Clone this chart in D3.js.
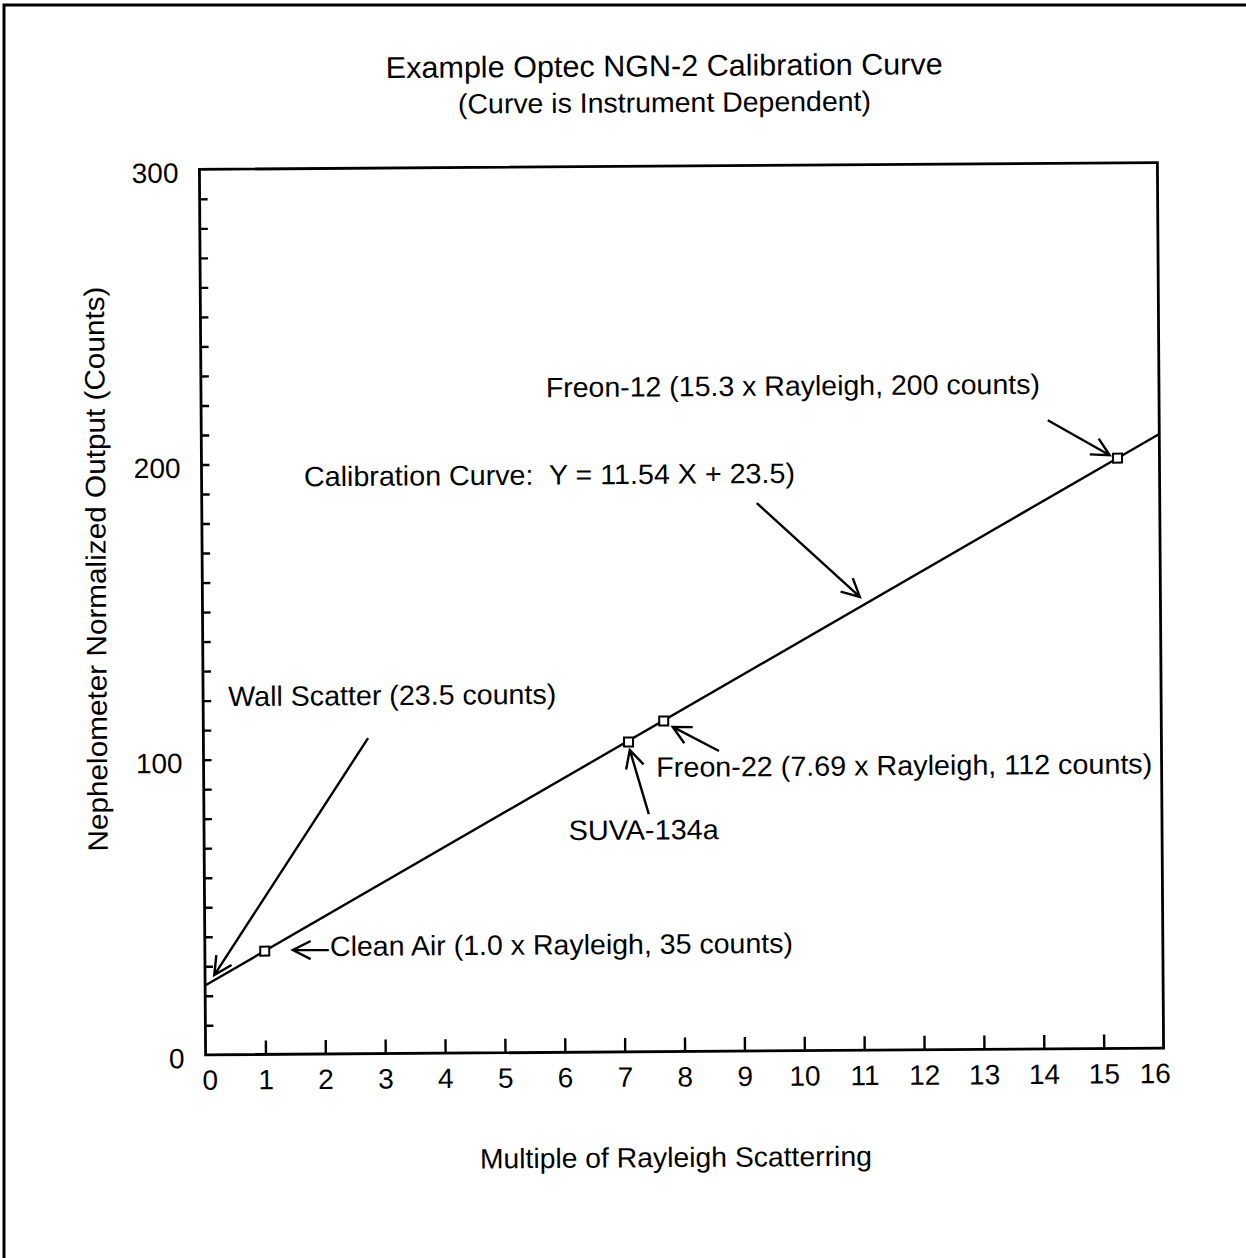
<!DOCTYPE html>
<html>
<head>
<meta charset="utf-8">
<script src="https://cdn.jsdelivr.net/npm/d3@7/dist/d3.min.js"></script>
<style>
  html, body { margin: 0; padding: 0; background: #fff; }
  text { font-family: "Liberation Sans", Arial, Helvetica, sans-serif; fill: #000; white-space: pre; }
</style>
</head>
<body>
<script>
// ---------------- DATA ----------------
const titleText = "Example Optec NGN-2 Calibration Curve";
const subtitleText = "(Curve is Instrument Dependent)";
const xAxisTitle = "Multiple of Rayleigh Scatterring";
const yAxisTitle = "Nephelometer Normalized Output (Counts)";

const xTickLabels = [0,1,2,3,4,5,6,7,8,9,10,11,12,13,14,15,16];
const xTickMarks  = [1,2,3,4,5,6,7,8,9,10,11,12,13,14,15];
const yTickLabels = [0,100,200,300];
const yTickMarks  = [10,20,30,40,50,60,70,80,90,100,110,120,130,140,150,160,170,180,190,200,210,220,230,240,250,260,270,280,290];

// calibration samples (multiple of Rayleigh, counts)
const sampleNames = ["Clean Air", "SUVA-134a", "Freon-22", "Freon-12"];
const sampleX = [1.0, 7.1, 7.69, 15.3];
const sampleY = [35, 105, 112, 200];

// calibration curve end points: Y = 11.54 X + 23.5
const curveX = [0, 16];
const curveY = [23.5, 208.1];

// annotations (text, anchor in data units)
const noteText = [
  "Freon-12 (15.3 x Rayleigh, 200 counts)",
  "Calibration Curve:  Y = 11.54 X + 23.5)",
  "Wall Scatter (23.5 counts)",
  "Freon-22 (7.69 x Rayleigh, 112 counts)",
  "SUVA-134a",
  "Clean Air (1.0 x Rayleigh, 35 counts)"
];
const noteX = [5.76, 1.71, 0.42, 7.56, 6.09, 2.09];
const noteY = [222.0, 192.4, 118.1, 93.1, 71.9, 33.2];
// arrows: tail -> tip, data units
const arrowX1 = [14.14, 9.27, 2.75, 8.61, 7.43, 2.07];
const arrowY1 = [213.0, 185.6, 106.9, 101.7, 80.5, 35.2];
const arrowX2 = [15.17, 10.98, 0.154, 7.84, 7.12, 1.47];
const arrowY2 = [201.0, 153.6, 27.0, 110.0, 102.3, 35.3];

// ---------------- LAYOUT ----------------
const W = 1246, H = 1258;
const plot = { left: 202.5, right: 1160.5, top: 166, bottom: 1051.5 };
const noteWidths = [494, 491, 328, 496, 150, 463];
const FONT_TICK = 28, FONT_NOTE = 28;

const svg = d3.select("body").append("svg")
  .attr("width", W).attr("height", H)
  .attr("viewBox", `0 0 ${W} ${H}`);

// page border (left and top edges)
svg.append("path")
  .attr("d", `M4,${H} V5 H${W}`)
  .attr("fill", "none").attr("stroke", "#000").attr("stroke-width", 3);

const g = svg.append("g").attr("transform", "rotate(-0.4,682,610)");

const x = d3.scaleLinear().domain([0, 16]).range([plot.left, plot.right]);
const y = d3.scaleLinear().domain([0, 300]).range([plot.bottom, plot.top]);

// titles
g.append("text").attr("x", 668).attr("y", 76).attr("text-anchor", "middle")
  .attr("font-size", 30).attr("textLength", 557).attr("lengthAdjust", "spacingAndGlyphs")
  .text(titleText);
g.append("text").attr("x", 668).attr("y", 112).attr("text-anchor", "middle")
  .attr("font-size", 28).attr("textLength", 413).attr("lengthAdjust", "spacingAndGlyphs")
  .text(subtitleText);

// y minor ticks (inward)
const yt = g.append("g").attr("transform", `translate(${plot.left},0)`)
  .call(d3.axisLeft(y).tickValues(yTickMarks).tickSizeInner(-8).tickSizeOuter(0).tickFormat(""));
yt.select(".domain").remove();
yt.selectAll(".tick line").attr("stroke", "#000").attr("stroke-width", 2.4);

// y labels
const yl = g.append("g").attr("transform", `translate(${plot.left},0)`)
  .call(d3.axisLeft(y).tickValues(yTickLabels).tickSize(0).tickPadding(21).tickFormat(d3.format("d")));
yl.select(".domain").remove();
yl.selectAll(".tick text").attr("font-size", FONT_TICK).attr("dy", "0.45em")
  .attr("font-family", "Liberation Sans, Arial, sans-serif").attr("fill", "#000");

// x ticks (inward)
const xt = g.append("g").attr("transform", `translate(0,${plot.bottom})`)
  .call(d3.axisBottom(x).tickValues(xTickMarks).tickSizeInner(-14).tickSizeOuter(0).tickFormat(""));
xt.select(".domain").remove();
xt.selectAll(".tick line").attr("stroke", "#000").attr("stroke-width", 2.4);

// x labels
const xl = g.append("g").attr("transform", `translate(0,${plot.bottom})`)
  .call(d3.axisBottom(x).tickValues(xTickLabels).tickSize(0).tickPadding(15).tickFormat(d3.format("d")));
xl.select(".domain").remove();
xl.selectAll(".tick text").attr("font-size", FONT_TICK)
  .attr("font-family", "Liberation Sans, Arial, sans-serif").attr("fill", "#000")
  .attr("dx", d => d === 16 ? -9 : (d === 0 ? 4 : 0));

// frame
g.append("rect")
  .attr("x", plot.left).attr("y", plot.top)
  .attr("width", plot.right - plot.left).attr("height", plot.bottom - plot.top)
  .attr("fill", "none").attr("stroke", "#000").attr("stroke-width", 2.8);

// axis titles
g.append("text").attr("x", 672).attr("y", 1167).attr("text-anchor", "middle")
  .attr("font-size", 28).attr("textLength", 392).attr("lengthAdjust", "spacingAndGlyphs")
  .text(xAxisTitle);
g.append("text").attr("transform", "translate(106,565) rotate(-90)").attr("text-anchor", "middle")
  .attr("font-size", 28).attr("textLength", 565).attr("lengthAdjust", "spacingAndGlyphs")
  .text(yAxisTitle);

// calibration curve
const line = d3.line().x(d => x(d[0])).y(d => y(d[1]));
g.append("path")
  .datum(curveX.map((v, i) => [v, curveY[i]]))
  .attr("d", line)
  .attr("fill", "none").attr("stroke", "#000").attr("stroke-width", 2.4);

// sample markers
const S = 9;
g.selectAll("rect.pt").data(sampleX.map((v, i) => ({ x: v, y: sampleY[i], name: sampleNames[i] })))
  .join("rect").attr("class", "pt")
  .attr("x", d => x(d.x) - S / 2).attr("y", d => y(d.y) - S / 2)
  .attr("width", S).attr("height", S)
  .attr("fill", "#fff").attr("stroke", "#000").attr("stroke-width", 2);

// annotation texts
g.selectAll("text.note").data(noteText.map((t, i) => ({ t, x: noteX[i], y: noteY[i], w: noteWidths[i] })))
  .join("text").attr("class", "note")
  .attr("x", d => x(d.x)).attr("y", d => y(d.y))
  .attr("font-size", FONT_NOTE)
  .attr("textLength", d => d.w).attr("lengthAdjust", "spacingAndGlyphs")
  .text(d => d.t);

// arrows
const HEAD = 20, ANG = 27 * Math.PI / 180;
function arrowPath(d) {
  const x1 = x(d.x1), y1 = y(d.y1), x2 = x(d.x2), y2 = y(d.y2);
  const a = Math.atan2(y1 - y2, x1 - x2);
  const h1x = x2 + HEAD * Math.cos(a + ANG), h1y = y2 + HEAD * Math.sin(a + ANG);
  const h2x = x2 + HEAD * Math.cos(a - ANG), h2y = y2 + HEAD * Math.sin(a - ANG);
  return `M${x1},${y1}L${x2},${y2}M${h1x},${h1y}L${x2},${y2}L${h2x},${h2y}`;
}
g.selectAll("path.arrow")
  .data(arrowX1.map((v, i) => ({ x1: v, y1: arrowY1[i], x2: arrowX2[i], y2: arrowY2[i] })))
  .join("path").attr("class", "arrow")
  .attr("d", arrowPath)
  .attr("fill", "none").attr("stroke", "#000").attr("stroke-width", 2.4)
  .attr("stroke-linejoin", "miter");
</script>
</body>
</html>
